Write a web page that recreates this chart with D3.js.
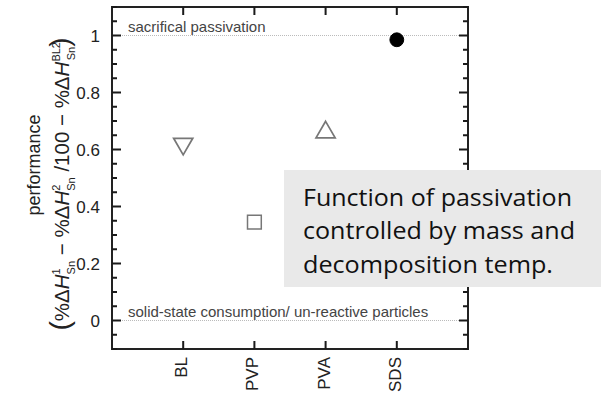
<!DOCTYPE html>
<html><head><meta charset="utf-8">
<script src="https://cdn.jsdelivr.net/npm/d3@7"></script>
<style>body{margin:0;background:#fff}svg{display:block}</style>
</head><body>
<svg id="c" width="601" height="395"></svg>
<script>
const categories = ["BL", "PVP", "PVA", "SDS"];
const values = [0.62, 0.345, 0.66, 0.985];
const symbols = ["triangleDown", "square", "triangleUp", "circle"];
const filled = [false, false, false, true];
const yTicks = [0, 0.2, 0.4, 0.6, 0.8, 1];
const refLines = [1, 0];
const refLabels = ["sacrifical passivation", "solid-state consumption/ un-reactive particles"];
const noteLines = ["Function of passivation", "controlled by mass and", "decomposition temp."];
const noteWidths = [269, 272, 250];

const svg = d3.select("#c");
const L = 112, R = 468, T = 7, B = 349;
const x = d3.scaleLinear().domain([0, 5]).range([L, R]);
const y = d3.scaleLinear().domain([-0.1, 1.1]).range([B, T]);
const xpos = i => x(i + 1);
const FONT = "Liberation Sans, Arial, sans-serif";

// reference dotted lines
refLines.forEach((v, i) => {
  svg.append("line").attr("x1", L).attr("x2", R).attr("y1", y(v)).attr("y2", y(v))
    .attr("stroke", "#bbb").attr("stroke-width", 1).attr("stroke-dasharray", "1,1");
  svg.append("text").attr("x", 128).attr("y", y(v) - 4).text(refLabels[i])
    .attr("font-family", FONT).attr("font-size", 15).attr("fill", "#444");
});

// y tick labels
svg.selectAll(".yl").data(yTicks).enter().append("text")
  .attr("x", 100).attr("y", d => y(d) + 6).attr("text-anchor", "end")
  .attr("font-family", FONT).attr("font-size", 17).attr("fill", "#222")
  .text(d => d === 0 ? "0" : d === 1 ? "1" : d3.format(".1f")(d));

// x category labels
categories.forEach((c, i) => {
  svg.append("text").attr("transform", `translate(${xpos(i) + 4},357) rotate(-90)`)
    .attr("text-anchor", "end")
    .attr("font-family", FONT).attr("font-size", 17).attr("fill", "#222")
    .text(c);
});

// markers
categories.forEach((c, i) => {
  const sizes = {triangleDown: 120, square: 190, triangleUp: 120, circle: 150};
  const t = symbols[i].startsWith("triangle") ? d3.symbolTriangle
    : symbols[i] === "square" ? d3.symbolSquare : d3.symbolCircle;
  const rot = symbols[i] === "triangleDown" ? 180 : 0;
  svg.append("path").attr("d", d3.symbol().type(t).size(sizes[symbols[i]])())
    .attr("transform", `translate(${xpos(i)},${y(values[i])}) rotate(${rot}) scale(${symbols[i].startsWith("tri") ? 1.15 : 1})`)
    .attr("fill", filled[i] ? "#000" : "none")
    .attr("stroke", filled[i] ? "#000" : "#777").attr("stroke-width", filled[i] ? 1 : 1.5);
});

// y axis titles
svg.append("text").attr("transform", "translate(40,165) rotate(-90)")
  .attr("text-anchor", "middle").attr("font-family", FONT)
  .attr("font-size", 18).attr("fill", "#222").text("performance");
const f = svg.append("text").attr("transform", "translate(69,184) rotate(-90)")
  .attr("text-anchor", "middle").attr("font-family", FONT)
  .attr("font-size", 20.5).attr("fill", "#222");
const parts = [
  {t: "(", s: 28},
  {t: "%Δ"}, {t: "H", i: true}, {t: "1", sup: true}, {t: "Sn", sub: true},
  {t: " − %Δ"}, {t: "H", i: true}, {t: "2", sup: true}, {t: "Sn", sub: true},
  {t: " /100 − %Δ"}, {t: "H", i: true}, {t: "BL2", sup: true}, {t: "Sn", sub: true},
  {t: ")", s: 28}
];
let lastSupLen = 0;
parts.forEach((q, i) => {
  const ts = f.append("tspan").text(q.t);
  if (q.i) ts.attr("font-style", "italic");
  if (q.s) ts.attr("font-size", q.s);
  if (q.sup) { ts.attr("font-size", 11).attr("dy", -9); lastSupLen = q.t.length; }
  if (q.sub) ts.attr("font-size", 11).attr("dy", 15).attr("dx", -(lastSupLen * 6.1));
  if (i > 0 && parts[i - 1].sub && !q.sup && !q.sub) ts.attr("dy", -6);
});

// frame, then inward ticks drawn from scales
svg.append("rect").attr("x", L).attr("y", T).attr("width", R - L).attr("height", B - T)
  .attr("fill", "none").attr("stroke", "#222").attr("stroke-width", 2);
const minorTicks = d3.range(-2, 23).map(k => k * 0.05).filter(v => !yTicks.some(t => Math.abs(t - v) < 1e-6));
const tp = d3.path();
minorTicks.forEach(v => { tp.moveTo(L, y(v)); tp.lineTo(L + 5, y(v)); tp.moveTo(R, y(v)); tp.lineTo(R - 5, y(v)); });
yTicks.forEach(v => { tp.moveTo(L, y(v)); tp.lineTo(L + 9, y(v)); tp.moveTo(R, y(v)); tp.lineTo(R - 9, y(v)); });
categories.forEach((c, i) => { tp.moveTo(xpos(i), B); tp.lineTo(xpos(i), B - 8); tp.moveTo(xpos(i), T); tp.lineTo(xpos(i), T + 8); });
svg.append("path").attr("d", tp.toString()).attr("fill", "none")
  .attr("stroke", "#1a1a1a").attr("stroke-width", 2);

// annotation box
svg.append("rect").attr("x", 284).attr("y", 170).attr("width", 317).attr("height", 117).attr("fill", "#e9e9e9");
noteLines.forEach((t, i) => {
  svg.append("text").attr("x", 303).attr("y", 206 + i * 33.3).text(t)
    .attr("textLength", noteWidths[i]).attr("lengthAdjust", "spacingAndGlyphs")
    .attr("font-family", "Open Sans, Noto Sans, sans-serif").attr("font-size", 23.5).attr("fill", "#111");
});
</script>
</body></html>
